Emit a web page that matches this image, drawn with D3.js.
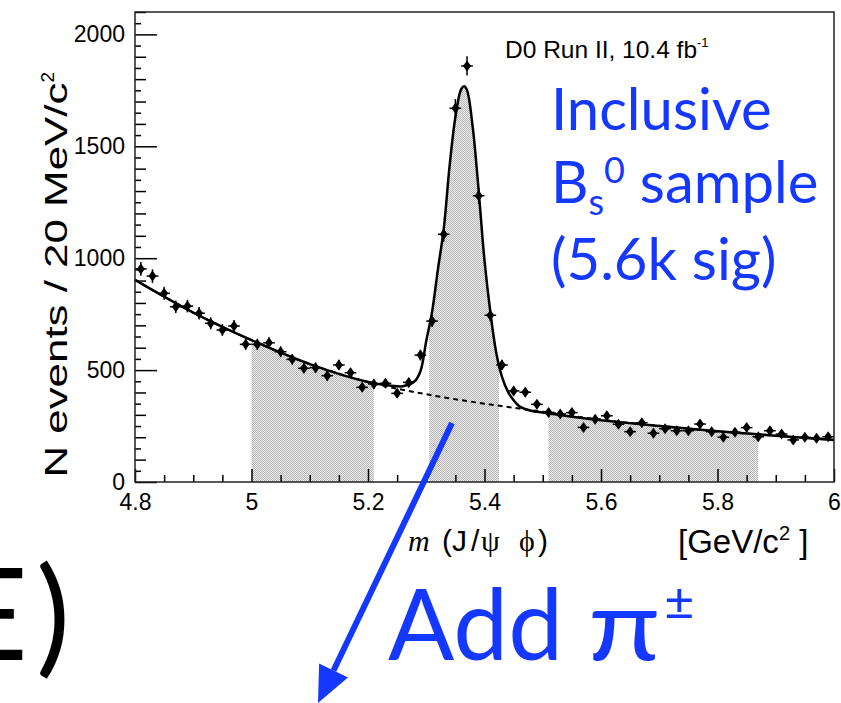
<!DOCTYPE html>
<html>
<head>
<meta charset="utf-8">
<script src="https://cdn.jsdelivr.net/npm/d3@7"></script>
<style>
  body { margin: 0; background: #fff; }
  svg { display: block; }
</style>
</head>
<body>
<div id="chart"></div>
<script>
// bin centres (20 MeV bins) and event counts
const massBins = [4.81, 4.83, 4.85, 4.87, 4.89, 4.91, 4.93, 4.95, 4.97, 4.99,
  5.01, 5.03, 5.05, 5.07, 5.09, 5.11, 5.13, 5.15, 5.17, 5.19,
  5.21, 5.23, 5.25, 5.27, 5.29, 5.31, 5.33, 5.35, 5.37, 5.39,
  5.41, 5.43, 5.45, 5.47, 5.49, 5.51, 5.53, 5.55, 5.57, 5.59,
  5.61, 5.63, 5.65, 5.67, 5.69, 5.71, 5.73, 5.75, 5.77, 5.79,
  5.81, 5.83, 5.85, 5.87, 5.89, 5.91, 5.93, 5.95, 5.97, 5.99];
const counts = [952, 920, 843, 783, 786, 754, 709, 679, 697, 615,
  615, 622, 582, 548, 508, 511, 475, 523, 488, 423,
  438, 441, 396, 445, 567, 719, 1107, 1670, 1859, 1279,
  745, 523, 407, 401, 347, 311, 304, 310, 244, 280,
  296, 258, 225, 265, 218, 238, 229, 229, 259, 225,
  200, 222, 243, 202, 229, 214, 188, 200, 195, 202];
const binHalfWidth = 0.01;

// fit curve (signal + background)
const fitMass = [4.80, 4.90, 5.00, 5.10, 5.20, 5.24, 5.26, 5.28, 5.29, 5.30, 5.31, 5.32,
  5.33, 5.34, 5.35, 5.36, 5.365, 5.37, 5.38, 5.39, 5.40, 5.41, 5.42, 5.43, 5.44,
  5.45, 5.46, 5.48, 5.50, 5.55, 5.60, 5.70, 5.80, 5.90, 6.00];
const fitTotal = [903, 757, 634, 527, 447, 430, 428, 450, 495, 630, 760, 950,
  1130, 1410, 1630, 1755, 1768, 1750, 1580, 1300, 990, 760, 580, 470, 405,
  365, 338, 318, 310, 292, 276, 250, 227, 207, 188];

// background component (dashed)
const bkgMass = [4.80, 4.90, 5.00, 5.10, 5.20, 5.30, 5.40, 5.50, 5.60, 5.70, 5.80, 5.90, 6.00];
const bkgValues = [903, 757, 634, 527, 447, 392, 350, 314, 278, 251, 227, 207, 188];

// shaded mass windows (sidebands and signal region)
const shadedRanges = [[5.0, 5.21], [5.305, 5.425], [5.51, 5.87]];

const yMajor = [0, 500, 1000, 1500, 2000];
const xMajor = [4.8, 5.0, 5.2, 5.4, 5.6, 5.8, 6.0];

const W = 841, H = 703;
const svg = d3.select("#chart").append("svg").attr("width", W).attr("height", H);

const x = d3.scaleLinear().domain([4.8, 6.0]).range([135, 834]);
const y = d3.scaleLinear().domain([0, 2100]).range([482, 12]);

const defs = svg.append("defs");
const pat = defs.append("pattern").attr("id", "dots")
  .attr("width", 2).attr("height", 2).attr("patternUnits", "userSpaceOnUse");
pat.append("rect").attr("width", 2).attr("height", 2).attr("fill", "#efefef");
pat.append("rect").attr("width", 1).attr("height", 1).attr("fill", "#b4b4b4");
pat.append("rect").attr("x", 1).attr("y", 1).attr("width", 1).attr("height", 1).attr("fill", "#b4b4b4");

const fitPts = fitMass.map((m, i) => [m, fitTotal[i]]);
const bkgPts = bkgMass.map((m, i) => [m, bkgValues[i]]);
const curve = d3.curveCatmullRom.alpha(0.5);

// shaded areas under the fit
const area = d3.area().x(d => x(d[0])).y0(y(0)).y1(d => y(d[1])).curve(curve);
shadedRanges.forEach((r, i) => {
  defs.append("clipPath").attr("id", "clip" + i)
    .append("rect").attr("x", x(r[0])).attr("y", 0)
    .attr("width", x(r[1]) - x(r[0])).attr("height", H);
  svg.append("path").datum(fitPts).attr("d", area)
    .attr("fill", "url(#dots)").attr("clip-path", `url(#clip${i})`);
});

const line = d3.line().x(d => x(d[0])).y(d => y(d[1])).curve(curve);
svg.append("path").datum(bkgPts).attr("d", line)
  .attr("fill", "none").attr("stroke", "#000").attr("stroke-width", 2)
  .attr("stroke-dasharray", "5,4");
svg.append("path").datum(fitPts).attr("d", line)
  .attr("fill", "none").attr("stroke", "#000").attr("stroke-width", 2.5);

// data points with error bars
const pts = svg.append("g");
massBins.forEach((m, i) => {
  const v = counts[i], e = Math.sqrt(v);
  const cx = x(m), cy = y(v);
  pts.append("line").attr("x1", cx).attr("x2", cx).attr("y1", y(v - e)).attr("y2", y(v + e))
    .attr("stroke", "#000").attr("stroke-width", 1.5);
  pts.append("line").attr("x1", x(m - binHalfWidth)).attr("x2", x(m + binHalfWidth))
    .attr("y1", cy).attr("y2", cy).attr("stroke", "#000").attr("stroke-width", 1.5);
  pts.append("path").attr("d", "M0,-5.5L4,0L0,5.5L-4,0Z")
    .attr("transform", `translate(${cx},${cy})`).attr("fill", "#000");
});

// axes (ticks inside the frame)
const font = "'Liberation Sans', Arial, Helvetica, sans-serif";
const serif = "'Liberation Serif', 'Times New Roman', serif";
function styleAxis(g) {
  g.select(".domain").remove();
  g.selectAll(".tick line").attr("stroke", "#000").attr("stroke-width", 1.5);
  g.selectAll("text").attr("font-family", font).attr("font-size", 23).attr("fill", "#000");
}
const yTicks = d3.range(0, 2101, 50);
svg.append("g").attr("transform", "translate(135,0)")
  .call(d3.axisLeft(y).tickValues(yTicks.filter(t => t % 100 !== 0)).tickSize(-6).tickFormat(""))
  .call(styleAxis);
svg.append("g").attr("transform", "translate(135,0)")
  .call(d3.axisLeft(y).tickValues(yTicks.filter(t => t % 100 === 0 && t % 500 !== 0)).tickSize(-11).tickFormat(""))
  .call(styleAxis);
svg.append("g").attr("transform", "translate(135,0)")
  .call(d3.axisLeft(y).tickValues(yMajor).tickSize(-22).tickPadding(10).tickFormat(d3.format("d")))
  .call(styleAxis);

const xMinor = d3.range(4.85, 6.0, 0.05).filter(t => Math.abs(t * 5 - Math.round(t * 5)) > 1e-6);
svg.append("g").attr("transform", "translate(0,482)")
  .call(d3.axisBottom(x).tickValues(xMinor).tickSize(-7).tickFormat(""))
  .call(styleAxis);
svg.append("g").attr("transform", "translate(0,482)")
  .call(d3.axisBottom(x).tickValues(xMajor).tickSize(-13).tickPadding(12).tickFormat(d3.format("~g")))
  .call(styleAxis);

// frame
svg.append("rect").attr("x", 135).attr("y", 12).attr("width", 699).attr("height", 470)
  .attr("fill", "none").attr("stroke", "#222").attr("stroke-width", 1.5);

// axis titles
const yt = svg.append("text").attr("transform", "translate(67,72) rotate(-90)")
  .attr("text-anchor", "end").attr("font-family", font).attr("font-size", 31);
yt.append("tspan").attr("textLength", 395).attr("lengthAdjust", "spacingAndGlyphs")
  .text("N events / 20 MeV/c");
yt.append("tspan").attr("font-size", 19).attr("dy", -13).text("2");

const xt = svg.append("text").attr("y", 551).attr("font-family", font).attr("font-size", 30);
xt.append("tspan").attr("x", 408).attr("font-family", serif).attr("font-style", "italic").text("m");
xt.append("tspan").attr("x", 442).text("(J");
xt.append("tspan").attr("x", 471).text("/");
xt.append("tspan").attr("x", 481).attr("font-family", serif).text("ψ");
xt.append("tspan").attr("x", 519).attr("font-family", serif).text("ϕ");
xt.append("tspan").attr("x", 538).text(")");

const ut = svg.append("text").attr("x", 678).attr("y", 553)
  .attr("font-family", font).attr("font-size", 33);
ut.append("tspan").text("[GeV/c");
ut.append("tspan").attr("font-size", 20).attr("dy", -13).text("2");
ut.append("tspan").attr("dy", 13).text(" ]");

// experiment label
const lab = svg.append("text").attr("x", 505).attr("y", 58)
  .attr("font-family", font).attr("font-size", 24.5);
lab.append("tspan").text("D0 Run II, 10.4 fb");
lab.append("tspan").attr("font-size", 13).attr("dy", -11).text("-1");

// blue annotations
const blue = "#1438ff";
const hum = "Lato, 'Open Sans', sans-serif";
svg.append("text").attr("x", 551).attr("y", 130).attr("font-family", hum)
  .attr("font-size", 58).attr("fill", blue).text("Inclusive");
const b2 = svg.append("text").attr("x", 551).attr("y", 203).attr("font-family", hum)
  .attr("font-size", 58).attr("fill", blue);
b2.append("tspan").text("B");
b2.append("tspan").attr("font-size", 36).attr("dy", 12).text("s");
b2.append("tspan").attr("font-size", 36).attr("dy", -32).text("0");
b2.append("tspan").attr("dy", 20).text(" sample");
svg.append("text").attr("x", 551).attr("y", 280).attr("font-family", hum)
  .attr("font-size", 58).attr("fill", blue).text("(5.6k sig)");

const add = svg.append("text").attr("x", 388).attr("y", 660).attr("font-family", hum)
  .attr("font-size", 98).attr("fill", blue);
add.append("tspan").text("Add ");
add.append("tspan").attr("textLength", 72).attr("lengthAdjust", "spacingAndGlyphs").text("π");
add.append("tspan").attr("font-size", 52).attr("dy", -40).attr("dx", 4).text("±");

// slide label, cut off at the left edge
svg.append("text").attr("x", -46).attr("y", 660).attr("font-family", hum)
  .attr("font-size", 128).attr("fill", "#000").text("E");
svg.append("text").attr("x", 36).attr("y", 660).attr("font-family", hum)
  .attr("font-size", 128).attr("fill", "#000").text(")");

// arrow
const tail = [452, 423], tip = [318, 703];
const ang = Math.atan2(tip[1] - tail[1], tip[0] - tail[0]);
const hl = 36, hw = 16;
const bx = tip[0] - hl * Math.cos(ang), by = tip[1] - hl * Math.sin(ang);
svg.append("line").attr("x1", tail[0]).attr("y1", tail[1]).attr("x2", bx).attr("y2", by)
  .attr("stroke", blue).attr("stroke-width", 6);
svg.append("path").attr("fill", blue).attr("d",
  `M${tip[0]},${tip[1]}L${bx + hw * Math.sin(ang)},${by - hw * Math.cos(ang)}L${bx - hw * Math.sin(ang)},${by + hw * Math.cos(ang)}Z`);
</script>
</body>
</html>
